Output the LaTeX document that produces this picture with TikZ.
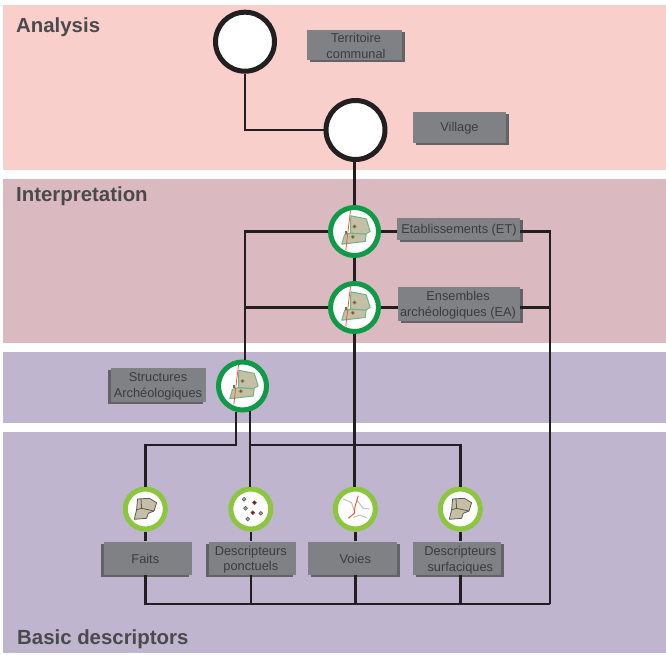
\documentclass[tikz,border=0pt]{standalone}
\usepackage{fontspec}
\setmainfont{Liberation Sans}
\usetikzlibrary{shadows,calc}
\definecolor{bandA}{HTML}{F9CFCB}
\definecolor{bandB}{HTML}{DBB9C0}
\definecolor{bandC}{HTML}{BFB5CF}
\definecolor{boxgrey}{HTML}{808184}
\definecolor{boxshade}{HTML}{636367}
\definecolor{boxtext}{HTML}{3C3C3F}
\definecolor{headtext}{HTML}{4A4A4D}
\definecolor{wire}{HTML}{231F20}
\definecolor{ringdark}{HTML}{0F9A48}
\definecolor{ringlight}{HTML}{8CC63F}
\definecolor{parcel}{HTML}{C5C0A5}
\definecolor{parcelline}{HTML}{6DB583}
\definecolor{roadred}{HTML}{F15A3C}
\definecolor{roadgrey}{HTML}{C4C0B2}
\tikzset{
  x=1pt,y=-1pt,
  band/.style={fill=#1,draw=none},
  heading/.style={anchor=west,inner sep=0pt,text=headtext,font=\fontsize{20.4}{24}\bfseries\selectfont},
  bigring/.style={circle,draw=wire,line width=5pt,fill=white,minimum size=59pt,inner sep=0pt},
  midring/.style={circle,draw=ringdark,line width=5pt,fill=white,minimum size=48pt,inner sep=0pt},
  smallring/.style={circle,draw=ringlight,line width=5pt,fill=white,minimum size=40pt,inner sep=0pt},
  labelbox/.style={fill=boxgrey,draw=none,inner sep=0pt},
  labeltext/.style={text=boxtext,inner sep=0pt,align=center,font=\fontsize{12.8}{15.5}\selectfont},
  shadeR/.style={copy shadow={fill=boxshade,draw=none,opacity=1,shadow xshift=3pt,shadow yshift=-2pt}},
  shadeL/.style={copy shadow={fill=boxshade,draw=none,opacity=1,shadow xshift=-3pt,shadow yshift=-2pt}},
  wired/.style={draw=wire,line width=2.5pt,line join=miter},
  pics/parcels/.style={code={
    \draw[parcelline,fill=parcel,line width=1pt,line join=round] (-3.7,-15.7)--(11.7,-12.7)--(15.7,0)--(10.7,2.7)--(-4,1.7)--cycle;
    \draw[parcelline,fill=parcel,line width=1pt,line join=round] (-10,3.3)--(-4.3,1.7)--(11.7,2.7)--(10.7,10)--(-12.7,12.7)--cycle;
    \draw[roadred,line width=.8pt] (-4,-21)--(-8.7,18.3);
    \fill[parcelline!70!black] (-10,-.6) rectangle (-7.4,2);
    \draw[parcelline,fill=roadred!70!black,line width=.4pt] (0,-5) circle (1.9pt) (-1.7,5.3) circle (1.9pt);
  }},
  pics/block/.style={code={
    \draw[black!65,fill=parcel,line width=.8pt,line join=round] (-7.7,-10)--(4,-10.7)--(11.3,-6.3)--(8.7,2)--(3,4.3)--(1.3,9.3)--(-11,10.3)--(-8.7,.7)--cycle;
    \draw[black!65,line width=.8pt] (-4.3,-10.5)--(-3.7,-.7)--(-8.7,.7) (-3.7,-.7)--(8.7,2);
  }},
  pics/points/.style={code={
    \foreach \p in {(-6.7,-9.7),(-5.3,-.7),(10,4.3),(-3,10)}
      \draw[black!65,fill=black!35,line width=.6pt] \p circle (1.9pt);
    \foreach \p in {(3.7,-6.3),(2,3.7)}
      \draw[black!65,fill=red!70!black,line width=.6pt] \p circle (1.9pt);
  }},
  pics/roads/.style={code={
    \draw[roadgrey,line width=1pt] (-12,-10)--(-3.7,-6.3)--(-1,2);
    \draw[roadgrey,line width=1pt] (1.3,-9)--(8,-.7)--(14,0);
    \draw[roadgrey,line width=1pt] (-2,8.3)--(4.7,6)--(11.3,8.7);
    \draw[roadred,line width=1pt] (3,-13.3)--(-.3,-2.3)--(-1,4.3)--(-7,9.3);
  }},
}
\begin{document}
\begin{tikzpicture}
\useasboundingbox (0,0) rectangle (666,655);
\fill[white] (0,0) rectangle (666,655);
\path[band=bandA] (3,5) rectangle (666,170);
\path[band=bandB] (3,179) rectangle (666,343);
\path[band=bandC] (3,352) rectangle (666,423);
\path[band=bandC] (3,432) rectangle (666,653);

\node[heading] (hA) at (16,27.5) {Analysis};
\node[heading] (hB) at (16,196.5) {Interpretation};
\node[heading] (hC) at (17,639.5) {Basic descriptors};

\node[bigring] (terr) at (245,41.7) {};
\node[bigring] (vill) at (355.5,130) {};
\node[midring] (et) at (354.5,231.5) {};
\node[midring] (ea) at (354.5,307.5) {};
\node[midring] (st) at (242.5,386) {};
\node[smallring] (fa) at (145.3,509) {};
\node[smallring] (po) at (250.8,509) {};
\node[smallring] (vo) at (355.3,509) {};
\node[smallring] (su) at (460.3,509) {};

\node[labelbox,shadeR,minimum width=95pt,minimum height=30pt] (terrL) at (354.5,45) {};
\node[labelbox,shadeR,minimum width=93pt,minimum height=31pt] (villL) at (459.5,127.5) {};
\node[labelbox,shadeR,minimum width=123pt,minimum height=22pt] (etL) at (458.5,229) {};
\node[labelbox,shadeR,minimum width=122pt,minimum height=34pt] (eaL) at (459,304) {};
\node[labelbox,shadeL,minimum width=95pt,minimum height=34pt] (stL) at (158.5,385) {};
\node[labelbox,shadeL,minimum width=88pt,minimum height=33pt] (faL) at (148,558) {};
\node[labelbox,shadeL,minimum width=87pt,minimum height=33pt] (poL) at (252.5,558) {};
\node[labelbox,shadeR,minimum width=89pt,minimum height=33pt] (voL) at (352.5,558) {};
\node[labelbox,shadeR,minimum width=88pt,minimum height=33pt] (suL) at (457,558) {};

\node[labeltext] (terrT) at (356,46) {Territoire\\communal};
\node[labeltext] (villT) at (459.5,128.5) {Village};
\node[labeltext] (etT) at (459,230) {Etablissements (ET)};
\node[labeltext] (eaT) at (458,305) {Ensembles\\archéologiques (EA)};
\node[labeltext] (stT) at (158,386.5) {Structures\\Archéologiques};
\node[labeltext] (faT) at (145.3,558.5) {Faits};
\node[labeltext] (poT) at (250.8,559.5) {Descripteurs\\ponctuels};
\node[labeltext] (voT) at (355.3,559) {Voies};
\node[labeltext] (suT) at (460.3,560) {Descripteurs\\surfaciques};

\pic at (et) {parcels};
\pic at (ea) {parcels};
\pic at (st) {parcels};
\pic at (fa) {block};
\pic at (po) {points};
\pic at (vo) {roads};
\pic at (su) {block};

\coordinate (busEnd) at (550,604);

\draw[wired] (terr.south) |- (vill.west);
\draw[wired] (et.north) -- (et.north |- vill.south);
\draw[wired] (et.south) -- (et.south |- ea.north);
\draw[wired] (et.west) -| (st.85);
\draw[wired] (ea.west) -- (ea.west -| st.85);
\draw[wired] (et.east) -- (et.east -| etL.west);
\draw[wired] (ea.east) -- (ea.east -| eaL.west);
\draw[wired] (etL.east |- et.east) -| (busEnd);
\draw[wired] (eaL.east |- ea.east) -- (ea.east -| busEnd);
\draw[wired] (ea.south) -- (ea.south |- vo.north);
\draw[wired] (st.-104) |- (fa.north |- 0,445) -- (fa.north);
\draw[wired] (st.-74) -- (st.-74 |- po.north);
\draw[wired] (st.-74 |- 0,445) -| (su.north);
\draw[wired] (fa.south) -- (fa.south |- faL.north);
\draw[wired] (po.south) -- (po.south |- poL.north);
\draw[wired] (vo.south) -- (vo.south |- voL.north);
\draw[wired] (su.south) -- (su.south |- suL.north);
\draw[wired] (fa.south |- faL.south) |- (busEnd);
\draw[wired] (po.south |- poL.south) -- (po.south |- busEnd);
\draw[wired] (vo.south |- voL.south) -- (vo.south |- busEnd);
\draw[wired] (su.south |- suL.south) -- (su.south |- busEnd);
\end{tikzpicture}
\end{document}
